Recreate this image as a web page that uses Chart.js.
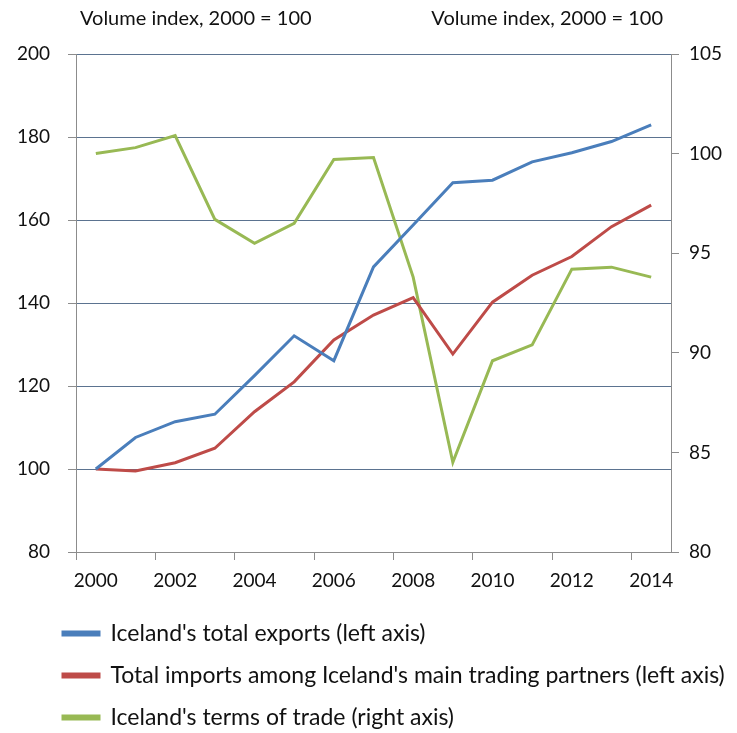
<!DOCTYPE html>
<html>
<head>
<meta charset="utf-8">
<script src="https://cdn.jsdelivr.net/npm/chart.js@4"></script>
<style>
  html, body { margin: 0; padding: 0; background: #fff; }
</style>
</head>
<body>
<canvas id="chart" width="737" height="733"></canvas>
<script>
// Data
// -----------------------------------
var years = ['2000', '2001', '2002', '2003', '2004', '2005', '2006', '2007',
    '2008', '2009', '2010', '2011', '2012', '2013', '2014'];
var exportsIdx = [100, 107.6, 111.4, 113.2, 122.5, 132.1, 126.1, 148.7,
    158.8, 169.0, 169.6, 174.0, 176.2, 178.9, 182.9];
var importsIdx = [100, 99.5, 101.5, 105.0, 113.8, 121.0, 131.1, 137.1,
    141.3, 127.7, 140.2, 146.7, 151.2, 158.4, 163.6];
var termsIdx = [100.0, 100.3, 100.9, 96.7, 95.5, 96.5, 99.7, 99.8,
    93.8, 84.5, 89.6, 90.4, 94.2, 94.3, 93.8];
var seriesNames = ["Iceland's total exports (left axis)",
    "Total imports among Iceland's main trading partners (left axis)",
    "Iceland's terms of trade (right axis)"];
var axisTitle = 'Volume index, 2000 = 100';

var FONT = 'Lato, "Open Sans", sans-serif';
var gridColor = '#5b7390';
var axisColor = '#8c8c8c';

// axis titles above the plot
var topTitles = {
    id: 'topTitles',
    afterDraw: function (chart) {
        var ctx = chart.ctx;
        var area = chart.chartArea;
        ctx.save();
        ctx.font = '20px ' + FONT;
        ctx.fillStyle = '#111';
        ctx.textBaseline = 'middle';
        ctx.textAlign = 'left';
        ctx.fillText(axisTitle, area.left + 4, 19);
        ctx.textAlign = 'right';
        ctx.fillText(axisTitle, area.right - 8, 19);
        ctx.restore();
    }
};

// legend sits indented under the plot
var legendShift = {
    id: 'legendShift',
    afterLayout: function (chart) {
        if (chart.legend) {
            chart.legend.left += 44;
            chart.legend.right += 44;
        }
    }
};

function line(label, data, color, axis) {
    return {
        label: label,
        data: data,
        yAxisID: axis,
        borderColor: color,
        backgroundColor: color,
        borderWidth: 3,
        pointRadius: 0,
        tension: 0,
        fill: false
    };
}

new Chart(document.getElementById('chart'), {
    type: 'line',
    data: {
        labels: years,
        datasets: [
            line(seriesNames[0], exportsIdx, '#4a7ebb', 'y'),
            line(seriesNames[1], importsIdx, '#be4b48', 'y'),
            line(seriesNames[2], termsIdx, '#98b954', 'y2')
        ]
    },
    options: {
        responsive: false,
        animation: false,
        devicePixelRatio: 1,
        layout: { padding: { top: 54, left: 0, right: 0, bottom: -6 } },
        plugins: {
            tooltip: { enabled: false },
            legend: {
                position: 'bottom',
                align: 'start',
                labels: {
                    boxWidth: 36,
                    boxHeight: 3,
                    padding: 19,
                    color: '#111',
                    font: { family: FONT, size: 23 }
                }
            }
        },
        scales: {
            x: {
                offset: true,
                afterFit: function (scale) { scale.height = 51; },
                grid: {
                    offset: true,
                    drawOnChartArea: false,
                    tickLength: 8,
                    color: function (c) { return c.index % 2 === 0 ? axisColor : 'rgba(0,0,0,0)'; }
                },
                border: { color: axisColor, width: 1 },
                ticks: {
                    autoSkip: false,
                    maxRotation: 0,
                    padding: 9,
                    color: '#111',
                    font: { family: FONT, size: 19 },
                    callback: function (v, i) { return i % 2 === 0 ? years[i] : ''; }
                }
            },
            y: {
                position: 'left',
                min: 80,
                max: 200,
                afterFit: function (scale) { scale.width = 76; },
                ticks: {
                    stepSize: 20,
                    padding: 18,
                    color: '#111',
                    font: { family: FONT, size: 19 }
                },
                grid: {
                    tickLength: 8,
                    tickColor: axisColor,
                    color: function (c) { return c.tick && c.tick.value === 80 ? axisColor : gridColor; }
                },
                border: { color: axisColor, width: 1 }
            },
            y2: {
                position: 'right',
                min: 80,
                max: 105,
                afterFit: function (scale) { scale.width = 66; },
                ticks: {
                    stepSize: 5,
                    padding: 10,
                    color: '#111',
                    font: { family: FONT, size: 19 }
                },
                grid: {
                    drawOnChartArea: false,
                    tickLength: 8,
                    color: axisColor
                },
                border: { color: axisColor, width: 1 }
            }
        }
    },
    plugins: [topTitles, legendShift]
});
</script>
</body>
</html>
